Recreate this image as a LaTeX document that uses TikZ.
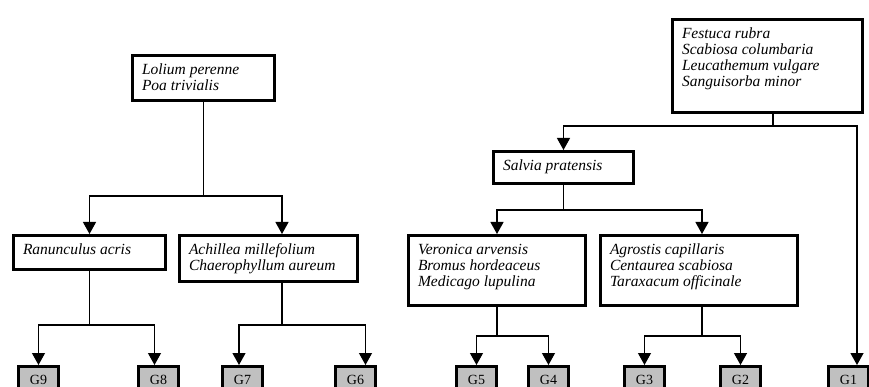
\documentclass[tikz,border=0pt]{standalone}
\usepackage{fontspec}
\setmainfont{Liberation Serif}
\usetikzlibrary{arrows.meta}
\definecolor{groupgray}{RGB}{192,192,192}
% species list, top-left in a box of fixed size
\newcommand{\splist}[3]{\parbox[c][#2][t]{#1}{\raggedright\rule{0pt}{19pt}#3}}

\begin{document}
\begin{tikzpicture}[x=1pt,y=-1pt,
  spbox/.style={draw,line width=3pt,anchor=north west,inner xsep=9.5pt,inner ysep=0pt,
    font=\fontsize{15.5}{16}\selectfont\itshape},
  gbox/.style={draw,line width=3pt,fill=groupgray,anchor=north west,minimum width=40pt,
    text height=9.5pt,text depth=0pt,inner ysep=8.5pt,font=\fontsize{14}{15}\selectfont},
  arr/.style={line width=1.2pt,-{Triangle[width=13pt,length=12pt]}}]
  \useasboundingbox (0,0) rectangle (869,387);
  \clip (0,0) rectangle (869,387);

  % species boxes
  \node[spbox] (lolium) at (131,54) {\splist{123pt}{45pt}{Lolium perenne\\Poa trivialis}};
  \node[spbox] (festuca) at (671,18) {\splist{171pt}{93pt}{Festuca rubra\\Scabiosa columbaria\\Leucathemum vulgare\\Sanguisorba minor}};
  \node[spbox] (salvia) at (492,150) {\splist{121pt}{32pt}{Salvia pratensis}};
  \node[spbox] (ranunc) at (12,234) {\splist{133pt}{34pt}{Ranunculus acris}};
  \node[spbox] (achillea) at (178,234) {\splist{159pt}{46pt}{Achillea millefolium\\Chaerophyllum aureum}};
  \node[spbox] (veronica) at (407,234) {\splist{158pt}{70pt}{Veronica arvensis\\Bromus hordeaceus\\Medicago lupulina}};
  \node[spbox] (agrostis) at (599,234) {\splist{178pt}{70pt}{Agrostis capillaris\\Centaurea scabiosa\\Taraxacum officinale}};

  % groups
  \node[gbox] (g9) at (17,365) {G9};
  \node[gbox] (g8) at (137,365) {G8};
  \node[gbox] (g7) at (221,365) {G7};
  \node[gbox] (g6) at (334,365) {G6};
  \node[gbox] (g5) at (455,365) {G5};
  \node[gbox] (g4) at (527,365) {G4};
  \node[gbox] (g3) at (623,365) {G3};
  \node[gbox] (g2) at (719,365) {G2};
  \node[gbox] (g1) at (827,365) {G1};

  % splits
  \draw[arr] (lolium.south) -- ++(0,94) -| (ranunc.north);
  \draw[arr] (lolium.south) -- ++(0,94) -| ([xshift=13.5pt]achillea.north);
  \draw[arr] (ranunc.south) -- ++(0,54) -| (g9.north);
  \draw[arr] (ranunc.south) -- ++(0,54) -| ([xshift=-4pt]g8.north);
  \draw[arr] ([xshift=13.5pt]achillea.south) -- ++(0,42) -| ([xshift=-3.5pt]g7.north);
  \draw[arr] ([xshift=13.5pt]achillea.south) -- ++(0,42) -| ([xshift=10pt]g6.north);
  \draw[arr] ([xshift=5.5pt]festuca.south) -- ++(0,12) -| (salvia.north);
  \draw[arr] ([xshift=5.5pt]festuca.south) -- ++(0,12) -| ([xshift=8.5pt]g1.north);
  \draw[arr] (salvia.south) -- ++(0,25) -| (veronica.north);
  \draw[arr] (salvia.south) -- ++(0,25) -| ([xshift=3pt]agrostis.north);
  \draw[arr] (veronica.south) -- ++(0,29) -| (g5.north);
  \draw[arr] (veronica.south) -- ++(0,29) -| (g4.north);
  \draw[arr] ([xshift=3pt]agrostis.south) -- ++(0,29) -| (g3.north);
  \draw[arr] ([xshift=3pt]agrostis.south) -- ++(0,29) -| (g2.north);
\end{tikzpicture}
\end{document}
